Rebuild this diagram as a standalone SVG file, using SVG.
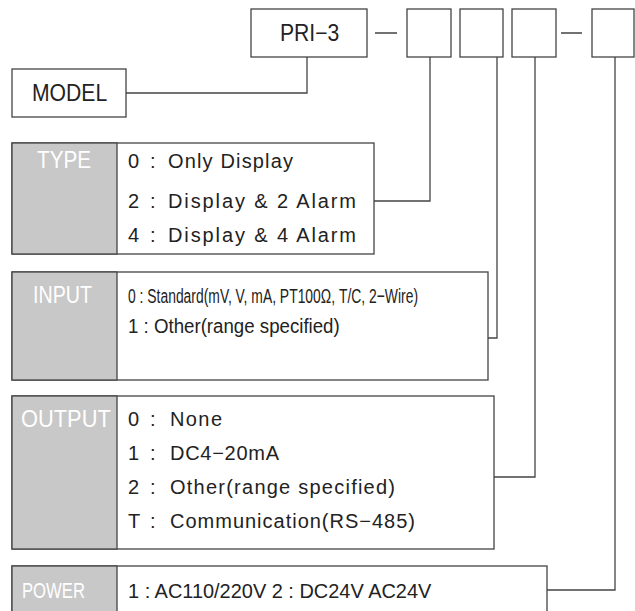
<svg xmlns="http://www.w3.org/2000/svg" width="635" height="611" viewBox="0 0 635 611">
<style>
.box{fill:#fff;stroke:#444;stroke-width:1.3}
.lab{fill:#c8c8c8;stroke:#444;stroke-width:1.3}
.con{fill:none;stroke:#444;stroke-width:1.3}
.t{font-family:"Liberation Sans",Arial,sans-serif;fill:#222}
.big{font-size:23px}
.w{font-family:"Liberation Sans",Arial,sans-serif;fill:#fff;font-size:23px}
.r{font-size:20px}
.r21{font-size:21px}
</style>
<rect width="635" height="611" fill="#fff"/>
<g id="connectors">
<path class="con" d="M307,57 V93 H126"/>
<path class="con" d="M430,57 V201 H374"/>
<path class="con" d="M497,57 V338 H488"/>
<path class="con" d="M535,57 V477 H494"/>
<path class="con" d="M615,57 V590 H547"/>
<path class="con" d="M375,33 H397 M561,33 H582"/>
</g>
<g id="pri3">
<rect class="box" x="251" y="9" width="116" height="48"/>
<text class="t big" transform="translate(280,41) scale(0.92,1)">PRI−3</text>
</g>
<g id="slot1"><rect class="box" x="407" y="9" width="44" height="48"/></g>
<g id="slot2"><rect class="box" x="460" y="9" width="43" height="48"/></g>
<g id="slot3"><rect class="box" x="512" y="9" width="44" height="48"/></g>
<g id="slot4"><rect class="box" x="592" y="9" width="42" height="48"/></g>
<g id="model">
<rect class="box" x="12" y="69" width="114" height="48"/>
<text class="t big" transform="translate(32,101) scale(0.92,1)">MODEL</text>
</g>
<g id="type">
<rect class="box" x="12" y="143" width="362" height="111"/>
<rect class="lab" x="12" y="143" width="105" height="111"/>
<text class="w" transform="translate(37,168) scale(0.9,1)">TYPE</text>
<text class="t r" x="128" y="168">0</text><text class="t r" x="150" y="168">:</text>
<text class="t r" x="168" y="168" textLength="125" lengthAdjust="spacing">Only Display</text>
<text class="t r" x="128" y="208">2</text><text class="t r" x="150" y="208">:</text>
<text class="t r" x="168" y="208" textLength="188" lengthAdjust="spacing">Display &amp; 2 Alarm</text>
<text class="t r" x="128" y="242">4</text><text class="t r" x="150" y="242">:</text>
<text class="t r" x="168" y="242" textLength="188" lengthAdjust="spacing">Display &amp; 4 Alarm</text>
</g>
<g id="input">
<rect class="box" x="12" y="272" width="476" height="108"/>
<rect class="lab" x="12" y="272" width="105" height="108"/>
<text class="w" transform="translate(33,303) scale(0.855,1)">INPUT</text>
<text class="t r21" transform="translate(128,303) scale(0.662,1)">0 : Standard(mV, V, mA, PT100Ω, T/C, 2−Wire)</text>
<text class="t r21" transform="translate(128,333) scale(0.89,1)">1 : Other(range specified)</text>
</g>
<g id="output">
<rect class="box" x="12" y="396" width="482" height="153"/>
<rect class="lab" x="12" y="396" width="105" height="153"/>
<text class="w" transform="translate(21,427) scale(0.95,1)">OUTPUT</text>
<text class="t r" x="128" y="426">0</text><text class="t r" x="150" y="426">:</text>
<text class="t r" x="170" y="426" textLength="52" lengthAdjust="spacing">None</text>
<text class="t r" x="128" y="460">1</text><text class="t r" x="150" y="460">:</text>
<text class="t r" x="170" y="460" textLength="109" lengthAdjust="spacing">DC4−20mA</text>
<text class="t r" x="128" y="494">2</text><text class="t r" x="150" y="494">:</text>
<text class="t r" x="170" y="494" textLength="225" lengthAdjust="spacing">Other(range specified)</text>
<text class="t r" x="128" y="528">T</text><text class="t r" x="150" y="528">:</text>
<text class="t r" x="170" y="528" textLength="245" lengthAdjust="spacing">Communication(RS−485)</text>
</g>
<g id="power">
<rect class="box" x="12" y="566" width="535" height="60"/>
<rect class="lab" x="12" y="566" width="105" height="60"/>
<text class="w" transform="translate(22,598) scale(0.725,1)">POWER</text>
<text class="t r21" transform="translate(128,598) scale(0.95,1)">1 : AC110/220V 2 : DC24V AC24V</text>
</g>
</svg>
